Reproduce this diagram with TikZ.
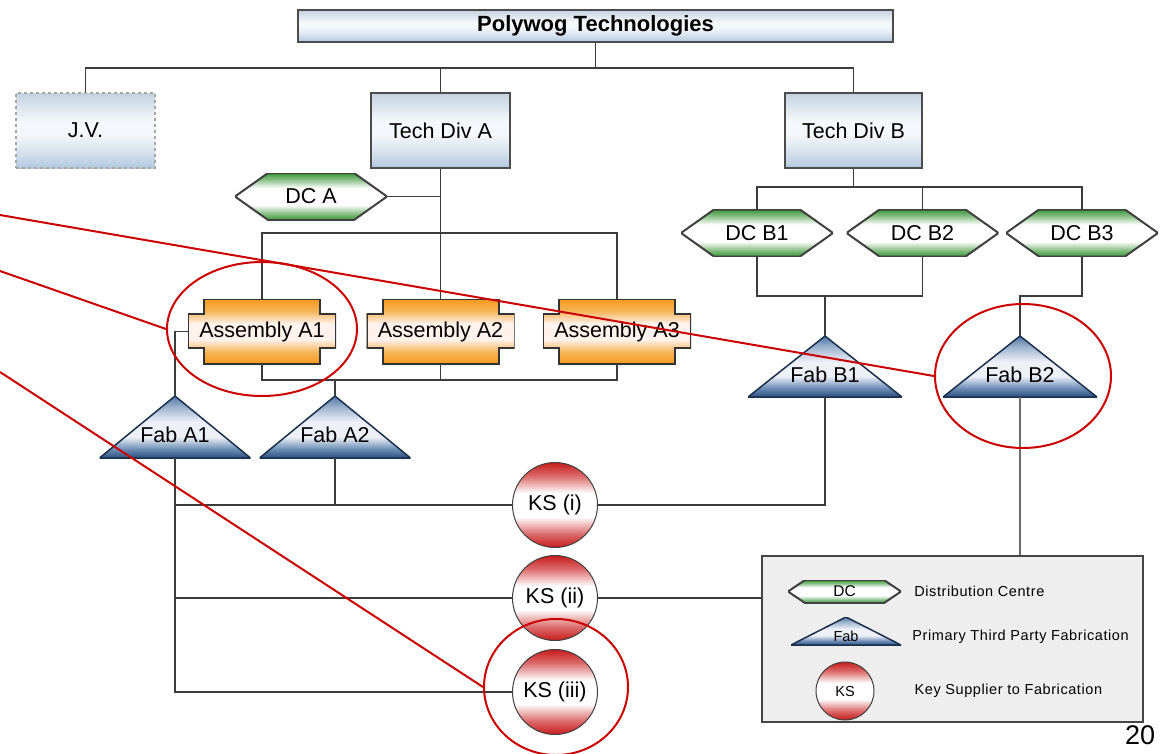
\documentclass[tikz,border=0pt]{standalone}
\usepackage{fontspec}
\setmainfont{Liberation Sans}
\newfontfamily\legendfont[LetterSpace=4]{Liberation Sans}
\usepackage{xcolor}
\usepackage{tikz}
\usetikzlibrary{shapes.geometric,positioning}

\definecolor{linegray}{HTML}{3C3C3C}
\definecolor{boxtop}{HTML}{C4D2E1}
\definecolor{boxmid}{HTML}{F5F8FB}
\definecolor{boxbot}{HTML}{B3C8DE}
\definecolor{dcgreen}{HTML}{3A9636}
\definecolor{asmorange}{HTML}{F59A1E}
\definecolor{asmmid}{HTML}{FFF2EC}
\definecolor{fabtop}{HTML}{4E76A6}
\definecolor{fabmid}{HTML}{EEF0F8}
\definecolor{fabbot}{HTML}{2C4E7E}
\definecolor{ksred}{HTML}{C81C1C}
\definecolor{calloutred}{HTML}{CC0000}

% banded fills (25bp = lower edge, 75bp = upper edge)
\pgfdeclareverticalshading{boxband}{100bp}{color(0bp)=(boxbot); color(25bp)=(boxbot);
  color(38bp)=(boxbot!45!white); color(48bp)=(boxmid); color(56bp)=(boxmid);
  color(66bp)=(boxtop!60!white); color(75bp)=(boxtop); color(100bp)=(boxtop)}
\pgfdeclareverticalshading{dcband}{100bp}{color(0bp)=(dcgreen); color(25bp)=(dcgreen);
  color(32bp)=(dcgreen!60); color(41bp)=(white); color(59bp)=(white);
  color(68bp)=(dcgreen!60); color(75bp)=(dcgreen); color(100bp)=(dcgreen)}
\pgfdeclareverticalshading{asmband}{100bp}{color(0bp)=(asmorange); color(25bp)=(asmorange);
  color(34bp)=(asmorange!75); color(44bp)=(asmmid); color(56bp)=(asmmid);
  color(66bp)=(asmorange!75); color(75bp)=(asmorange); color(100bp)=(asmorange)}
\pgfdeclareverticalshading{fabband}{100bp}{color(0bp)=(fabbot); color(25bp)=(fabbot);
  color(32bp)=(fabtop!85); color(42bp)=(fabmid); color(54bp)=(fabmid);
  color(66bp)=(fabtop!55); color(75bp)=(fabtop); color(100bp)=(fabtop)}
\pgfdeclareverticalshading{ksband}{100bp}{color(0bp)=(ksred); color(25bp)=(ksred);
  color(33bp)=(ksred!65); color(43bp)=(white); color(57bp)=(white);
  color(67bp)=(ksred!65); color(75bp)=(ksred); color(100bp)=(ksred)}

\begin{document}
\begin{tikzpicture}[
    x=1pt, y=-1pt,
    conn/.style={draw=linegray, line width=1.8pt},
    org/.style={rectangle, draw=gray!60!black, line width=1.5pt,
        shade, shading=boxband,
        inner sep=0pt, font=\fontsize{21.5}{25}\selectfont},
    dc/.style={rectangle, inner sep=0pt, font=\fontsize{21.5}{25}\selectfont,
        path picture={
            \shade[shading=dcband, draw=gray!50!black, line width=2pt]
                (path picture bounding box.west)
                -- ([xshift=#1]path picture bounding box.north west)
                -- ([xshift=-#1]path picture bounding box.north east)
                -- (path picture bounding box.east)
                -- ([xshift=-#1]path picture bounding box.south east)
                -- ([xshift=#1]path picture bounding box.south west) -- cycle;}},
    dc/.default=33pt,
    asm/.style={rectangle, inner sep=0pt, minimum width=148pt, minimum height=65pt,
        font=\fontsize{21.5}{25}\selectfont,
        path picture={
            \shade[shading=asmband, draw=gray!40!black, line width=2pt]
                ([xshift=16pt]path picture bounding box.north west)
                -- ([xshift=-16pt]path picture bounding box.north east)
                -- ([xshift=-16pt,yshift=-15pt]path picture bounding box.north east)
                -- ([yshift=-15pt]path picture bounding box.north east)
                -- ([yshift=16pt]path picture bounding box.south east)
                -- ([xshift=-16pt,yshift=16pt]path picture bounding box.south east)
                -- ([xshift=-16pt]path picture bounding box.south east)
                -- ([xshift=16pt]path picture bounding box.south west)
                -- ([xshift=16pt,yshift=16pt]path picture bounding box.south west)
                -- ([yshift=16pt]path picture bounding box.south west)
                -- ([yshift=-15pt]path picture bounding box.north west)
                -- ([xshift=16pt,yshift=-15pt]path picture bounding box.north west)
                -- cycle;}},
    fab/.style={rectangle, inner sep=0pt, text height=31pt, text depth=0pt,
        font=\fontsize{21.5}{25}\selectfont,
        path picture={
            \shade[shading=fabband, draw=fabbot!60!black, line width=1.5pt]
                (path picture bounding box.south west)
                -- (path picture bounding box.north)
                -- (path picture bounding box.south east) -- cycle;}},
    ks/.style={circle, draw=gray!50!black, line width=1pt, inner sep=0pt,
        shade, shading=ksband,
        font=\fontsize{21.5}{25}\selectfont},
    legtext/.style={inner sep=0pt, anchor=west, font=\legendfont\fontsize{14.5}{17}\selectfont},
    callout/.style={ellipse, draw=calloutred, line width=2pt, inner sep=0pt},
    pointer/.style={draw=calloutred, line width=2pt},
]
\useasboundingbox (0,0) rectangle (1165,753);

% Company and divisions
\node[org, minimum width=595pt, minimum height=32pt,
    font=\fontsize{22}{26}\selectfont\bfseries] (polywog) at (595.5,26) {Polywog Technologies};
\node[org, dashed, draw=gray!70, minimum width=139pt, minimum height=75pt] (jv) at (85.5,130.5) {J.V.};
\node[org, minimum width=139pt, minimum height=75pt] (techA) at (440.5,130.5) {Tech Div A};
\node[org, minimum width=137pt, minimum height=75pt] (techB) at (853.5,130.5) {Tech Div B};

% Distribution centres
\node[dc, minimum width=152pt, minimum height=47pt] (dcA) at (311,196.5) {DC A};
\node[dc, minimum width=152pt, minimum height=47pt] (dcB1) at (757,233) {DC B1};
\node[dc, minimum width=152pt, minimum height=47pt] (dcB2) at (922.5,233) {DC B2};
\node[dc, minimum width=152pt, minimum height=47pt] (dcB3) at (1082,233) {DC B3};

% Assembly
\node[asm] (asm1) at (262,331.5) {Assembly A1};
\node[asm] (asm2) at (440.5,331.5) {Assembly A2};
\node[asm] (asm3) at (617,331.5) {Assembly A3};

% Fabrication
\node[fab, minimum width=151pt, minimum height=62pt] (fabA1) at (175,427) {Fab A1};
\node[fab, minimum width=151pt, minimum height=62pt] (fabA2) at (335,427) {Fab A2};
\node[fab, minimum width=154pt, minimum height=61pt] (fabB1) at (825,366.5) {Fab B1};
\node[fab, minimum width=154pt, minimum height=61pt] (fabB2) at (1020,366.5) {Fab B2};

% Key suppliers
\node[ks, minimum size=85pt] (ks1) at (555,505) {KS (i)};
\node[ks, minimum size=85pt] (ks2) at (555,598) {KS (ii)};
\node[ks, minimum size=85pt] (ks3) at (555,692) {KS (iii)};

% Legend
\node[rectangle, draw=gray!55!black, line width=1.5pt, fill=gray!13,
    minimum width=381pt, minimum height=166pt] (legend) at (952.5,639) {};
\node[dc=17pt, minimum width=113pt, minimum height=23pt, font=\fontsize{15.5}{18}\selectfont] (lgdc) at (844.5,591.5) {DC};
\node[legtext, right=13pt of lgdc] (lgdctext) {Distribution Centre};
\node[fab, minimum width=110pt, minimum height=28pt, text height=20pt,
    font=\fontsize{14.5}{17}\selectfont] (lgfab) at (846,631) {Fab};
\node[legtext, right=11pt of lgfab, yshift=-6pt] (lgfabtext) {Primary Third Party Fabrication};
\node[ks, minimum size=58pt, font=\fontsize{14.5}{17}\selectfont] (lgks) at (845,691) {KS};
\node[legtext, right=40pt of lgks] (lgkstext) {Key Supplier to Fabrication};

% Page number
\node[anchor=north west, inner sep=0pt, font=\fontsize{27}{32}\selectfont] (pagenum) at (1125,725) {20};

% Connectors
\coordinate (tb) at (595.5,68);
\coordinate (ab) at (440.5,233);
\coordinate (abot) at (440.5,380);
\coordinate (bb) at (853.5,187);
\coordinate (fb) at (825,296);
\coordinate (fb2) at (1020,296);
\draw[conn] (polywog.south) -- (tb);
\draw[conn] (jv.north) |- (tb) -| (techB.north);
\draw[conn] (techA.north) -- (techA.north |- tb);
\draw[conn] (dcA.east) -- (dcA.east -| techA.south);
\draw[conn] (techA.south) -- (asm2.north);
\draw[conn] (asm1.north) |- (ab) -| (asm3.north);
\draw[conn] (asm1.south) |- (abot) -| (asm3.south);
\draw[conn] (asm2.south) -- (abot);
\draw[conn] (fabA2.north) -- (fabA2.north |- abot);
\draw[conn] (asm1.west) -| (fabA1.north);
\draw[conn] (fabA1.south) |- (ks3.west);
\draw[conn] (ks1.west) -- (ks1.west -| fabA1.south);
\draw[conn] (ks2.west) -- (ks2.west -| fabA1.south);
\draw[conn] (fabA2.south) -- (fabA2.south |- ks1.west);
\draw[conn] (ks1.east) -| (fabB1.south);
\draw[conn] (ks2.east) -- (ks2.east -| legend.west);
\draw[conn, draw=gray!85!black, line width=2.4pt] (fabB2.south) -- (fabB2.south |- legend.north);
\draw[conn] (techB.south) -- (bb);
\draw[conn] (dcB1.north) |- (bb) -| (dcB3.north);
\draw[conn] (dcB2.north) -- (dcB2.north |- bb);
\draw[conn] (dcB1.south) |- (fb) -| (dcB2.south);
\draw[conn] (fb) -- (fabB1.north);
\draw[conn] (dcB3.south) |- (fb2) -- (fabB2.north);

% Red call-outs
\node[callout, minimum width=190pt, minimum height=134pt] (ringA) at (262,329) {};
\node[callout, minimum width=176pt, minimum height=144pt] (ringB) at (1023,376) {};
\node[callout, minimum width=144pt, minimum height=136pt] (ringK) at (556,687) {};
\coordinate (pA) at (0,271);
\coordinate (pB) at (0,215);
\coordinate (pK) at (0,372);
\draw[pointer] (pB) -- (ringB.west);
\draw[pointer] (pA) -- (ringA.west);
\draw[pointer] (pK) -- (ringK.west);

\end{tikzpicture}
\end{document}
